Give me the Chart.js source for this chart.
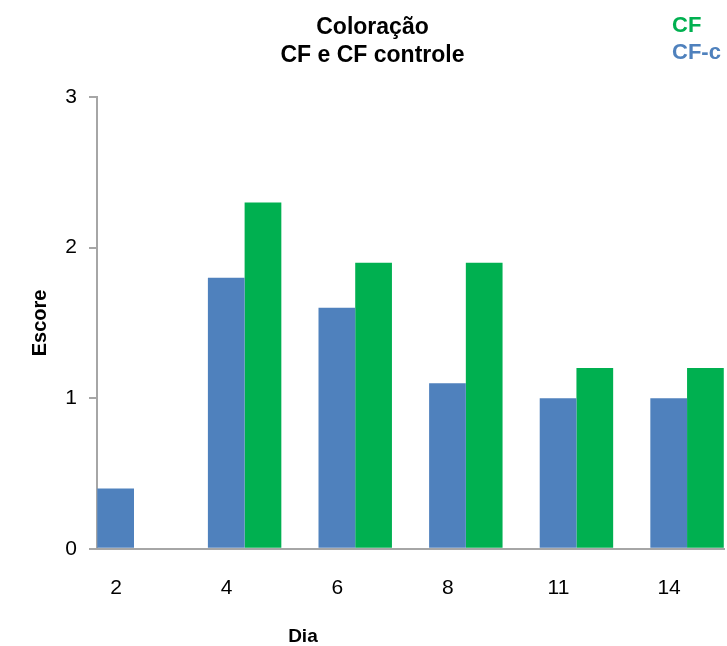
<!DOCTYPE html>
<html>
<head>
<meta charset="utf-8">
<script src="https://cdn.jsdelivr.net/npm/chart.js@4.4.1/dist/chart.umd.min.js"></script>
<style>
  html, body { margin: 0; padding: 0; background: #fff; }
  #wrap { position: relative; width: 727px; height: 646px; }
</style>
</head>
<body>
<div id="wrap"><canvas id="chart"></canvas></div>
<script>
// Coloração - CF e CF controle
const days = ['2', '4', '6', '8', '11', '14'];
const cfControle = [0.4, 1.8, 1.6, 1.1, 1.0, 1.0];
const cf = [0, 2.3, 1.9, 1.9, 1.2, 1.2];
const yTicks = [0, 1, 2, 3];

const blue = '#4f81bd';
const green = '#00b050';
const axisGray = '#a6a6a6';
const family = '"Liberation Sans", Arial, sans-serif';

// legend as plain coloured text, plus the "Dia" label under the second gap
const textLegend = {
    id: 'textLegend',
    afterDraw(chart) {
        const ctx = chart.ctx;
        const items = chart.data.datasets.slice().reverse();
        ctx.save();
        ctx.font = 'bold 22px ' + family;
        ctx.textAlign = 'left';
        ctx.textBaseline = 'alphabetic';
        items.forEach((ds, i) => {
            ctx.fillStyle = ds.backgroundColor;
            ctx.fillText(ds.label, 672, 32 + i * 27);
        });
        const x = chart.scales.x;
        ctx.font = 'bold 19px ' + family;
        ctx.textAlign = 'center';
        ctx.fillStyle = '#000';
        ctx.fillText('Dia', x.getPixelForValue(1.5) + 3, 642);
        ctx.restore();
    }
};

const toPoints = arr => arr.map((v, i) => ({ x: i, y: v }));

new Chart(document.getElementById('chart'), {
    type: 'bar',
    data: {
        datasets: [{
            label: 'CF-c',
            data: toPoints(cfControle),
            backgroundColor: blue,
            borderWidth: 0,
            categoryPercentage: 0.664,
            barPercentage: 1.0
        }, {
            label: 'CF',
            data: toPoints(cf),
            backgroundColor: green,
            borderWidth: 0,
            categoryPercentage: 0.664,
            barPercentage: 1.0
        }]
    },
    options: {
        responsive: true,
        maintainAspectRatio: false,
        animation: false,
        layout: {
            padding: { left: 21, right: 3, top: 0, bottom: 18 }
        },
        plugins: {
            legend: { display: false },
            tooltip: { enabled: false },
            title: {
                display: true,
                text: ['Coloração', 'CF e CF controle'],
                color: '#000',
                font: { family: family, size: 23, weight: 'bold', lineHeight: 28 / 23 },
                padding: { top: 14, bottom: 27 }
            }
        },
        scales: {
            x: {
                type: 'linear',
                min: -0.3345,
                max: 5.334,
                offset: false,
                afterBuildTicks: s => {
                    s.ticks = days.map((d, i) => ({ value: i }));
                },
                ticks: {
                    autoSkip: false,
                    maxRotation: 0,
                    labelOffset: -18,
                    padding: 27,
                    color: '#000',
                    font: { family: family, size: 21 },
                    callback: v => days[v]
                },
                grid: { display: true, offset: false, drawOnChartArea: false, drawTicks: false, color: axisGray },
                border: { color: axisGray, width: 2 }
            },
            y: {
                min: 0,
                max: 3,
                afterBuildTicks: s => {
                    s.ticks = yTicks.map(v => ({ value: v }));
                },
                afterFit: s => {
                    s.width = 97 - 21;
                },
                ticks: {
                    padding: 12,
                    color: '#000',
                    font: { family: family, size: 21 }
                },
                grid: { display: true, drawOnChartArea: false, drawTicks: true, tickLength: 8, color: axisGray, lineWidth: 2 },
                border: { color: axisGray, width: 2 },
                title: {
                    display: true,
                    text: 'Escore',
                    color: '#000',
                    font: { family: family, size: 20, weight: 'bold', lineHeight: 1.2 },
                    padding: { top: 7, bottom: 0 }
                }
            }
        }
    },
    plugins: [textLegend]
});
</script>
</body>
</html>
